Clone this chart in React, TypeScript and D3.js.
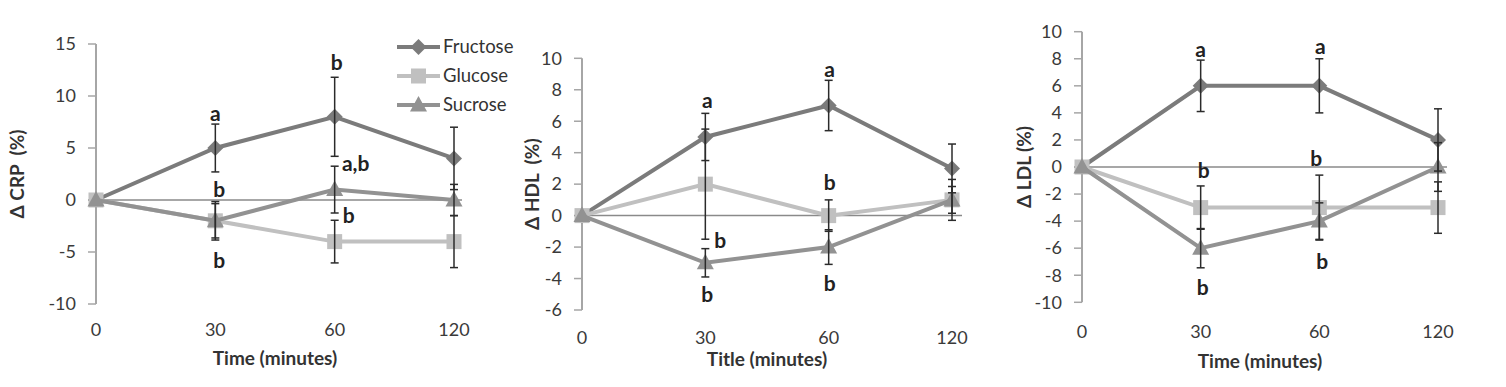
import React from "react";
import * as d3 from "d3";

const timeCats = ["0", "30", "60", "120"];
const seriesNames = ["Fructose", "Glucose", "Sucrose"];

// CRP panel
const crpFructose = [0, 5, 8, 4];
const crpFructoseErr = [0, 2.3, 3.8, 3];
const crpGlucose = [0, -2, -4, -4];
const crpGlucoseErr = [0, 1.85, 2.05, 2.5];
const crpSucrose = [0, -2, 1, 0];
const crpSucroseErr = [0, 1.65, 2.25, 1.5];
const crpTicks = [-10, -5, 0, 5, 10, 15];

// HDL panel
const hdlFructose = [0, 5, 7, 3];
const hdlFructoseErr = [0, 1.5, 1.6, 1.55];
const hdlGlucose = [0, 2, 0, 1];
const hdlGlucoseErr = [0, 3.5, 1.0, 1.3];
const hdlSucrose = [0, -3, -2, 1];
const hdlSucroseErr = [0, 0.9, 1.1, 0.85];
const hdlTicks = [-6, -4, -2, 0, 2, 4, 6, 8, 10];

// LDL panel
const ldlFructose = [0, 6, 6, 2];
const ldlFructoseErr = [0, 1.9, 2.0, 2.3];
const ldlGlucose = [0, -3, -3, -3];
const ldlGlucoseErr = [0, 1.6, 2.4, 1.9];
const ldlSucrose = [0, -6, -4, 0];
const ldlSucroseErr = [0, 1.45, 1.35, 1.8];
const ldlTicks = [-10, -8, -6, -4, -2, 0, 2, 4, 6, 8, 10];

// significance letters: [category, value position, text, dx]
const crpLetters: [string, number, string, number][] = [
  ["30", 8.3, "a", 0], ["60", 13.2, "b", 2], ["30", 1.0, "b", 4], ["30", -5.8, "b", 4],
  ["60", 3.5, "a,b", 21], ["60", -1.5, "b", 14],
];
const hdlLetters: [string, number, string, number][] = [
  ["30", 7.3, "a", 2], ["60", 9.3, "a", 1], ["30", -1.6, "b", 15], ["30", -5.0, "b", 2],
  ["60", 2.1, "b", 1], ["60", -4.3, "b", 1],
];
const ldlLetters: [string, number, string, number][] = [
  ["30", 8.7, "a", 0], ["60", 8.9, "a", 1], ["30", -0.3, "b", 3], ["60", 0.6, "b", -3],
  ["60", -7.0, "b", 3], ["30", -8.9, "b", 2],
];

const colors = ["#7b7b7b", "#c0c0c0", "#929292"];
const FONT = "Lato, 'Open Sans', sans-serif";

type Panel = {
  values: number[][];
  errs: number[][];
  ticks: number[];
  letters: [string, number, string, number][];
  yTitle: string;
  xTitle: string;
  xRange: [number, number];
  yDomain: [number, number];
  yRange: [number, number];
  zeroEnd: number;
  yTitleX: number;
  xTitleY: number;
  xLabelY: number;
  xTitleX: number;
};

const panels: Panel[] = [
  {
    values: [crpFructose, crpGlucose, crpSucrose],
    errs: [crpFructoseErr, crpGlucoseErr, crpSucroseErr],
    ticks: crpTicks, letters: crpLetters, yTitle: "Δ CRP\u00a0\u00a0(%)", xTitle: "Time (minutes)",
    xRange: [96, 454], yDomain: [-10, 15], yRange: [304, 44], zeroEnd: 462,
    yTitleX: 17, xTitleY: 358, xLabelY: 330, xTitleX: 275,
  },
  {
    values: [hdlFructose, hdlGlucose, hdlSucrose],
    errs: [hdlFructoseErr, hdlGlucoseErr, hdlSucroseErr],
    ticks: hdlTicks, letters: hdlLetters, yTitle: "Δ HDL\u00a0\u00a0(%)", xTitle: "Title (minutes)",
    xRange: [582, 952], yDomain: [-6, 10], yRange: [310, 58.3], zeroEnd: 962,
    yTitleX: 532, xTitleY: 359, xLabelY: 338, xTitleX: 767,
  },
  {
    values: [ldlFructose, ldlGlucose, ldlSucrose],
    errs: [ldlFructoseErr, ldlGlucoseErr, ldlSucroseErr],
    ticks: ldlTicks, letters: ldlLetters, yTitle: "Δ LDL (%)", xTitle: "Time (minutes)",
    xRange: [1082, 1438], yDomain: [-10, 10], yRange: [302.3, 31.7], zeroEnd: 1447,
    yTitleX: 1024, xTitleY: 361, xLabelY: 332, xTitleX: 1260,
  },
];

function Marker({ kind, x, y, color }: { kind: number; x: number; y: number; color: string }) {
  if (kind === 0) {
    const s = 8;
    return <path d={`M${x},${y - s}L${x + s},${y}L${x},${y + s}L${x - s},${y}Z`} fill={color} />;
  }
  if (kind === 1) {
    return <rect x={x - 7.5} y={y - 7.5} width={15} height={15} fill={color} />;
  }
  return <path d={`M${x},${y - 9}L${x + 8.5},${y + 6.5}L${x - 8.5},${y + 6.5}Z`} fill={color} />;
}

function PanelView({ p }: { p: Panel }) {
  const x = d3.scalePoint<string>().domain(timeCats).range(p.xRange);
  const y = d3.scaleLinear().domain(p.yDomain).range(p.yRange);
  const axisX = p.xRange[0];
  const line = d3
    .line<number>()
    .x((_, i) => x(timeCats[i]) as number)
    .y((v) => y(v));
  const yMid = (p.yRange[0] + p.yRange[1]) / 2 - 14;
  return (
    <g>
      {/* y axis */}
      <line x1={axisX} x2={axisX} y1={y(p.yDomain[0])} y2={y(p.yDomain[1])} stroke="#a6a6a6" strokeWidth={2} />
      {p.ticks.map((t) => (
        <g key={t}>
          <line x1={axisX - 8} x2={axisX} y1={y(t)} y2={y(t)} stroke="#a6a6a6" strokeWidth={1.5} />
          <text x={axisX - 20} y={y(t)} dy="0.35em" textAnchor="end" fontSize={18} fill="#3a3a3a" fontFamily={FONT}>
            {t}
          </text>
        </g>
      ))}
      {/* zero line */}
      <line x1={axisX} x2={p.zeroEnd} y1={y(0)} y2={y(0)} stroke="#8a8a8a" strokeWidth={1.5} />
      {/* x labels */}
      {timeCats.map((c) => (
        <text key={c} x={x(c)} y={p.xLabelY} dy="0.35em" textAnchor="middle" fontSize={18} fill="#3a3a3a" fontFamily={FONT}>
          {c}
        </text>
      ))}
      {/* series */}
      {p.values.map((vals, si) => (
        <g key={si}>
          <path d={line(vals) || ""} fill="none" stroke={colors[si]} strokeWidth={4} />
          {vals.map((v, i) => (
            <Marker key={i} kind={si} x={x(timeCats[i]) as number} y={y(v)} color={colors[si]} />
          ))}
        </g>
      ))}
      {/* error bars */}
      {p.values.map((vals, si) =>
        vals.map((v, i) => {
          const e = p.errs[si][i];
          if (!e) return null;
          const cx = x(timeCats[i]) as number;
          return (
            <g key={`${si}-${i}`} stroke="#2b2b2b" strokeWidth={1.5}>
              <line x1={cx} x2={cx} y1={y(v - e)} y2={y(v + e)} />
              <line x1={cx - 4} x2={cx + 4} y1={y(v - e)} y2={y(v - e)} />
              <line x1={cx - 4} x2={cx + 4} y1={y(v + e)} y2={y(v + e)} />
            </g>
          );
        })
      )}
      {/* letters */}
      {p.letters.map(([c, v, t, dx], i) => (
        <text key={i} x={(x(c) as number) + dx} y={y(v)} dy="0.35em" textAnchor="middle" fontSize={21} fontWeight="bold" fill="#222" fontFamily={FONT}>
          {t}
        </text>
      ))}
      {/* titles */}
      <text x={p.xTitleX} y={p.xTitleY} dy="0.35em" textAnchor="middle" fontSize={19} fontWeight="bold" fill="#333" fontFamily={FONT}>
        {p.xTitle}
      </text>
      <text
        transform={`translate(${p.yTitleX},${yMid + 14}) rotate(-90)`}
        dy="0.35em"
        textAnchor="middle"
        fontSize={19}
        fontWeight="bold"
        fill="#333"
        fontFamily={FONT}
      >
        {p.yTitle}
      </text>
    </g>
  );
}

function Legend() {
  const rows = [47, 76, 105];
  return (
    <g>
      {seriesNames.map((n, i) => (
        <g key={n}>
          <line x1={397} x2={440} y1={rows[i]} y2={rows[i]} stroke={colors[i]} strokeWidth={4} />
          <Marker kind={i} x={418.5} y={rows[i]} color={colors[i]} />
          <text x={443} y={rows[i]} dy="0.35em" fontSize={18.5} fill="#333" fontFamily={FONT}>
            {n}
          </text>
        </g>
      ))}
    </g>
  );
}

export default function App() {
  return (
    <svg width={1506} height={387} style={{ position: "absolute", left: 0, top: 0, background: "#fff" }}>
      <rect width={1506} height={387} fill="#fff" />
      {panels.map((p, i) => (
        <PanelView key={i} p={p} />
      ))}
      <Legend />
    </svg>
  );
}
